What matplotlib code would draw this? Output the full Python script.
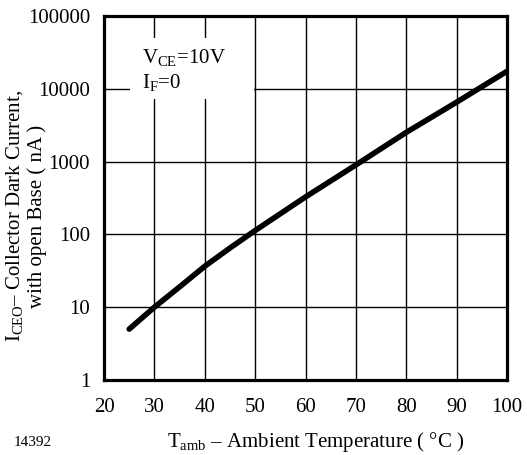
import numpy as np
import matplotlib
matplotlib.use("Agg")
from matplotlib import pyplot as plt
from matplotlib.ticker import FixedLocator, FixedFormatter, NullLocator

plt.rcParams['font.family'] = ['Liberation Serif', 'DejaVu Serif']
plt.rcParams['mathtext.fontset'] = 'custom'
plt.rcParams['mathtext.rm'] = 'Liberation Serif'

# curve
temp = [25, 30, 35, 40, 45, 50, 60, 70, 80, 90, 100]
dark_current = [5.0, 10.0, 19.0, 36.5, 65, 113, 327, 900, 2520, 6550, 17400]

xticks = [20, 30, 40, 50, 60, 70, 80, 90, 100]
yticks = [1, 10, 100, 1000, 10000, 100000]
ytick_labels = ["1", "10", "100", "1000", "10000", "100000"]

fig = plt.figure(figsize=(5.27, 4.55), dpi=100)
ax = fig.add_axes([104/527, 1 - 380/455, (507-104)/527, (380-16)/455])

ax.set_yscale("log")
ax.set_xlim(20, 100)
ax.set_ylim(1, 100000)

ax.xaxis.set_major_locator(FixedLocator(xticks))
ax.yaxis.set_major_locator(FixedLocator(yticks))
ax.yaxis.set_major_formatter(FixedFormatter(ytick_labels))
ax.yaxis.set_minor_locator(NullLocator())
ax.xaxis.set_minor_locator(NullLocator())

ax.grid(True, color="black", linewidth=1.0)
ax.tick_params(length=0, labelsize=15, pad=10)
ax.tick_params(axis="x", pad=13)

for s in ax.spines.values():
    s.set_linewidth(2.3)

ax.plot(temp, dark_current, color="black", linewidth=4.0, solid_capstyle="round")

# parameter box, white background hides the grid behind it
fig.patches.append(plt.Rectangle((130/527, 1 - 99/455), (254-130)/527, (99-38)/455,
                                 transform=fig.transFigure, facecolor="white",
                                 edgecolor="none", zorder=5))
fig.text(142/527, 1 - 63/455, r"V$\mathregular{_{CE}}$=10V", fontsize=15,
         va="baseline", ha="left", zorder=6)
fig.text(142/527, 1 - 88/455, r"I$\mathregular{_F}$=0", fontsize=15,
         va="baseline", ha="left", zorder=6)

fig.text(316/527, 1 - 442/455, r"T$\mathregular{_{amb}}$ – Ambient Temperature ( °C )",
         fontsize=15, ha="center", va="center")

fig.text(15/527, 1 - 216/455, r"I$\mathregular{_{CEO}}$– Collector Dark Current,",
         fontsize=15, rotation=90, ha="center", va="center")
fig.text(37/527, 1 - 216/455, "with open Base ( nA )",
         fontsize=15, rotation=90, ha="center", va="center")

fig.text(14/527, 1 - 442/455, "14392", fontsize=11, ha="left", va="center")

fig.savefig("out.png", dpi=100)
